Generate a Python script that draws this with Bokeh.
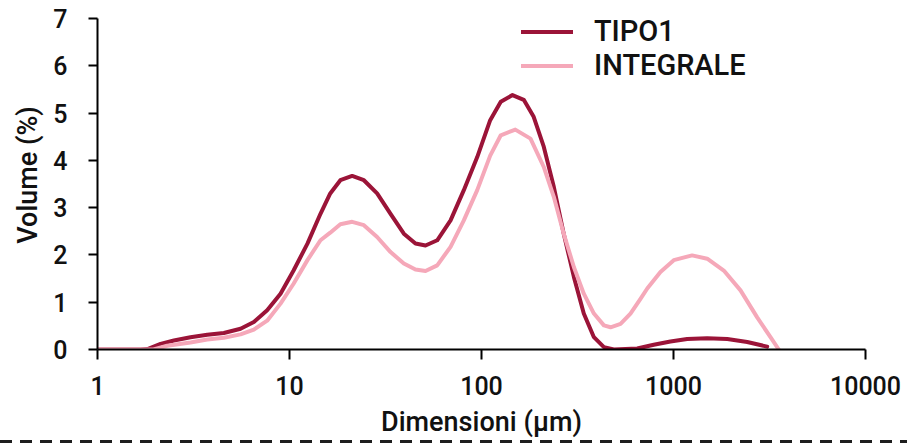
from bokeh.plotting import figure
from bokeh.models import Range1d, FixedTicker, Legend, LegendItem, Div
from bokeh.layouts import column
from bokeh.embed import file_html
from bokeh.resources import INLINE

# ---- data ----
series_names = ["TIPO1", "INTEGRALE"]

size_tipo1 = [1, 1.675, 1.822, 2.13, 2.50, 3.05, 3.73, 4.55, 5.56, 6.52, 7.65, 8.98,
              10.5, 12.4, 14.5, 16.3, 18.4, 21.2, 24.4, 28.6, 33.6, 39.4, 45.3, 51.1,
              58.8, 69.0, 80.9, 95.0, 111, 126, 145, 166, 187, 211, 238, 268, 303,
              341, 385, 434, 489, 647, 789, 964, 1178, 1498, 1906, 2421, 3076]
vol_tipo1 = [0, 0, 0.01, 0.12, 0.19, 0.26, 0.31, 0.35, 0.44, 0.58, 0.83, 1.18,
             1.67, 2.24, 2.87, 3.30, 3.58, 3.67, 3.58, 3.30, 2.87, 2.45, 2.24, 2.20,
             2.31, 2.73, 3.37, 4.07, 4.85, 5.24, 5.38, 5.28, 4.92, 4.29, 3.44, 2.45, 1.53,
             0.76, 0.26, 0.05, 0.0, 0.02, 0.10, 0.17, 0.22, 0.24, 0.22, 0.16, 0.06]

size_integrale = [1, 1.957, 2.31, 3.05, 3.73, 4.55, 5.56, 6.52, 7.65, 8.98, 10.5, 12.4,
                  14.5, 16.3, 18.4, 21.2, 24.4, 28.6, 33.6, 39.4, 45.3, 51.1, 58.8, 69.0,
                  80.9, 95.0, 111, 126, 150, 180, 211, 238, 268, 303, 341, 385, 434,
                  470, 530, 597, 673, 730, 855, 1003, 1250, 1498, 1828, 2234, 2728,
                  3200, 3534]
vol_integrale = [0, 0, 0.08, 0.15, 0.21, 0.25, 0.32, 0.42, 0.61, 0.97, 1.39, 1.89,
                 2.31, 2.47, 2.65, 2.70, 2.63, 2.38, 2.06, 1.82, 1.69, 1.66, 1.78, 2.17,
                 2.73, 3.37, 4.10, 4.53, 4.65, 4.46, 3.86, 3.23, 2.45, 1.74, 1.18, 0.76, 0.51,
                 0.47, 0.54, 0.76, 1.07, 1.29, 1.64, 1.89, 1.99, 1.92, 1.67, 1.25, 0.68,
                 0.26, 0]

x_ticks = [1, 10, 100, 1000, 10000]
x_tick_labels = ["1", "10", "100", "1000", "10000"]
y_ticks = [0, 1, 2, 3, 4, 5, 6, 7]
x_title = "Dimensioni (µm)"
y_title = "Volume (%)"

colors = ["#9B1438", "#F5A8B9"]
FONT = "Roboto Medium, Roboto"
TXT = "#111111"

# frame spans the full canvas height above the x axis (349 px); the value 7 sits 18 px below the top
FRAME_H = 349
Y_TOP = y_ticks[-1] * FRAME_H / (FRAME_H - 18)

p = figure(width=907, height=440, x_axis_type="log",
           x_range=Range1d(x_ticks[0], x_ticks[-1]), y_range=Range1d(y_ticks[0], Y_TOP),
           output_backend="svg", toolbar_location=None,
           min_border_left=97, min_border_right=42, min_border_top=0, min_border_bottom=91)
p.outline_line_color = None
p.xgrid.visible = False
p.ygrid.visible = False
p.background_fill_color = "white"
p.border_fill_color = "white"

r1 = p.line(size_tipo1, vol_tipo1, line_color=colors[0], line_width=4, line_join="round", line_cap="round")
r2 = p.line(size_integrale, vol_integrale, line_color=colors[1], line_width=4, line_join="round", line_cap="round")

xa = p.xaxis[0]
xa.ticker = FixedTicker(ticks=x_ticks, minor_ticks=[])
xa.major_label_overrides = {t: l for t, l in zip(x_ticks, x_tick_labels)}
xa.major_tick_out = 10
xa.major_tick_in = 0
xa.minor_tick_out = 0
xa.axis_line_width = 2
xa.major_tick_line_width = 2
xa.axis_line_color = "black"
xa.major_tick_line_color = "black"
xa.major_label_text_font = FONT
xa.major_label_text_font_size = "25px"
xa.major_label_text_color = TXT
xa.major_label_standoff = 16
xa.axis_label = x_title
xa.axis_label_text_font = FONT
xa.axis_label_text_font_size = "27px"
xa.axis_label_text_font_style = "normal"
xa.axis_label_text_color = TXT
xa.axis_label_standoff = 8

ya = p.yaxis[0]
ya.ticker = FixedTicker(ticks=y_ticks, minor_ticks=[])
ya.bounds = (y_ticks[0], y_ticks[-1])
ya.major_tick_out = 9
ya.major_tick_in = 0
ya.minor_tick_out = 0
ya.axis_line_width = 2
ya.major_tick_line_width = 2
ya.axis_line_color = "black"
ya.major_tick_line_color = "black"
ya.major_label_text_font = FONT
ya.major_label_text_font_size = "25px"
ya.major_label_text_color = TXT
ya.major_label_standoff = 21
ya.axis_label = y_title
ya.axis_label_text_font = FONT
ya.axis_label_text_font_size = "27px"
ya.axis_label_text_font_style = "normal"
ya.axis_label_text_color = TXT
ya.axis_label_standoff = 6

legend = Legend(items=[LegendItem(label=series_names[0], renderers=[r1]),
                       LegendItem(label=series_names[1], renderers=[r2])],
                location=(424, 267), glyph_width=52, glyph_height=33, label_height=33,
                label_standoff=21, spacing=0, padding=0, margin=0,
                label_text_font=FONT, label_text_font_size="29px", label_text_color=TXT,
                border_line_alpha=0, background_fill_alpha=0)
p.add_layout(legend)

# dashed separator line below the chart
sep = Div(width=907, height=3, margin=0,
          styles={"background": "repeating-linear-gradient(90deg, #1e1e1e 0px, #1e1e1e 12px, transparent 12px, transparent 20px)"})

layout = column(p, sep, spacing=0)
open("out.html", "w").write(file_html(layout, INLINE))
